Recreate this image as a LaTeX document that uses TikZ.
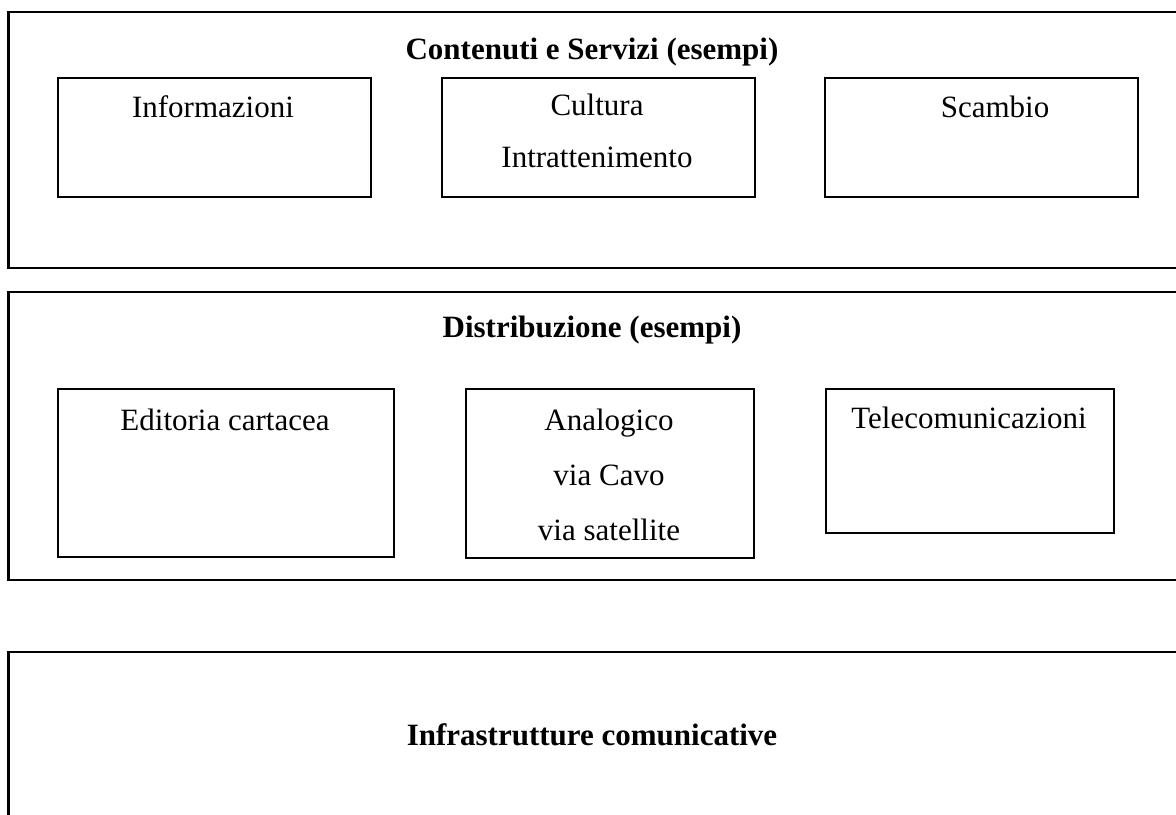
\documentclass[tikz,border=0pt]{standalone}
\usepackage{fontspec}
\setmainfont{Liberation Serif}
\begin{document}
\begin{tikzpicture}[x=0.5pt,y=-0.5pt,
  outerbox/.style={draw=black,line width=1.1pt},
  itembox/.style={draw=black,line width=1.1pt,anchor=north west,inner sep=0pt},
  lbl/.style={anchor=base,inner sep=0pt,font=\fontsize{15.5}{18}\selectfont},
  ttl/.style={anchor=base,inner sep=0pt,font=\fontsize{15.5}{18}\selectfont\bfseries}]
\useasboundingbox (0,0) rectangle (1176,814);
% section frames (cut off at the right and bottom edges)
\draw[outerbox] (1190,12) -- (8.5,12) -- (8.5,268) -- (1190,268);
\draw[outerbox] (1190,292) -- (8.5,292) -- (8.5,580) -- (1190,580);
\draw[outerbox] (1190,652) -- (8.5,652) -- (8.5,830);
\node[ttl] (t1) at (592,59) {Contenuti e Servizi (esempi)};
\node[ttl] (t2) at (592,337) {Distribuzione (esempi)};
\node[ttl] (t3) at (592,745) {Infrastrutture comunicative};
% content boxes
\node[itembox,minimum width=156.5pt,minimum height=59.5pt] (b1) at (57,77) {};
\node[itembox,minimum width=156.5pt,minimum height=59.5pt] (b2) at (441,77) {};
\node[itembox,minimum width=156.5pt,minimum height=59.5pt] (b3) at (824,77) {};
\node[lbl] (l1) at (213,117) {Informazioni};
\node[lbl] (l2a) at (597,115) {Cultura};
\node[lbl] (l2b) at (597,167) {Intrattenimento};
\node[lbl] (l3) at (995,117) {Scambio};
% distribution boxes
\node[itembox,minimum width=168pt,minimum height=84pt] (d1) at (57,388) {};
\node[itembox,minimum width=144pt,minimum height=84.5pt] (d2) at (465,388) {};
\node[itembox,minimum width=144pt,minimum height=72pt] (d3) at (825,388) {};
\node[lbl] (m1) at (225,430) {Editoria cartacea};
\node[lbl] (m2a) at (609,430) {Analogico};
\node[lbl] (m2b) at (609,485) {via Cavo};
\node[lbl] (m2c) at (609,540) {via satellite};
\node[lbl] (m3) at (969,428) {Telecomunicazioni};
\end{tikzpicture}
\end{document}
